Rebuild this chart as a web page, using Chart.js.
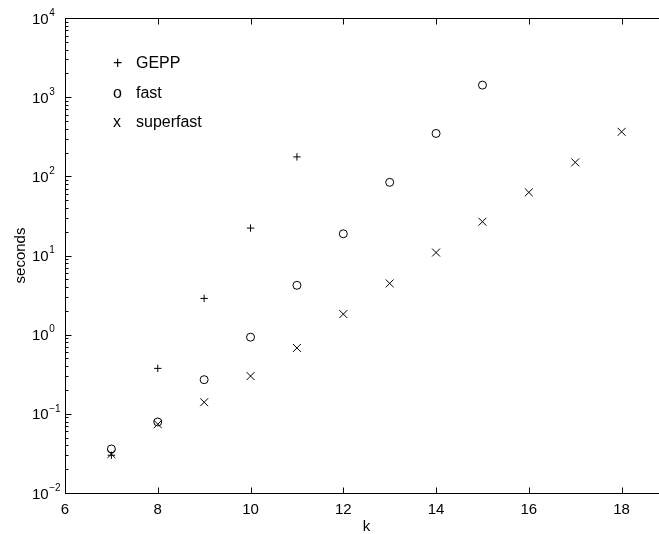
<!DOCTYPE html>
<html lang="en">
  <head>
    <meta charset="UTF-8">
    <title>GEPP vs fast vs superfast</title>
    <script src="https://cdn.jsdelivr.net/npm/chart.js@4.4.7/dist/chart.umd.min.js"></script>
    <style>
    body {
      margin: 0;
      background: #fff;
    }
    #wrap {
      width: 659px;
      height: 534px;
      overflow: hidden;
    }
    </style>
  </head>
  <body>
    <div id="wrap">
      <canvas id="timingChart" width="680" height="534"></canvas>
    </div>
    <script>
    // values (seconds, log axis)
    const kGepp = [7, 8, 9, 10, 11];
    const geppSeconds = [0.030, 0.375, 2.87, 22.2, 176];
    const kFast = [7, 8, 9, 10, 11, 12, 13, 14, 15];
    const fastSeconds = [0.036, 0.079, 0.27, 0.93, 4.2, 18.8, 84, 348, 1420];
    const kSuperfast = [7, 8, 9, 10, 11, 12, 13, 14, 15, 16, 17, 18];
    const superfastSeconds = [0.031, 0.074, 0.14, 0.30, 0.68, 1.82, 4.44, 10.9, 26.7, 62.7, 150, 365];
    const xTicks = [6, 8, 10, 12, 14, 16, 18];
    const yExponents = [-2, -1, 0, 1, 2, 3, 4];
    const legendGlyphs = ['+', 'o', 'x'];

    Chart.defaults.font.family = '"Liberation Sans", Arial, sans-serif';
    Chart.defaults.color = '#000';

    function points(xs, ys) {
      return xs.map((x, i) => ({ x: x, y: ys[i] }));
    }

    // MATLAB style box: inward ticks, 10^n labels, text legend
    const matlabAxes = {
      id: 'matlabAxes',
      afterDraw(chart) {
        const ctx = chart.ctx;
        const area = chart.chartArea;
        const xs = chart.scales.x;
        const ys = chart.scales.y;
        ctx.save();
        ctx.strokeStyle = '#000';
        ctx.fillStyle = '#000';
        ctx.lineWidth = 1;
        const L = Math.round(area.left) + 0.5;
        const R = Math.round(area.right) + 0.5;
        const T = Math.round(area.top) + 0.5;
        const B = Math.round(area.bottom) + 0.5;
        ctx.strokeRect(L, T, R - L, B - T);

        ctx.beginPath();
        xTicks.forEach(v => {
          const px = Math.round(xs.getPixelForValue(v)) + 0.5;
          ctx.moveTo(px, B); ctx.lineTo(px, B - 6);
          ctx.moveTo(px, T); ctx.lineTo(px, T + 6);
        });
        yExponents.forEach(e => {
          for (let m = 1; m <= 9; m++) {
            if (e === 4 && m > 1) break;
            const py = Math.round(ys.getPixelForValue(m * Math.pow(10, e))) + 0.5;
            const len = m === 1 ? 6 : 3;
            ctx.moveTo(L, py); ctx.lineTo(L + len, py);
            ctx.moveTo(R, py); ctx.lineTo(R - len, py);
          }
        });
        ctx.stroke();

        // y tick labels 10^n
        ctx.textAlign = 'left';
        ctx.textBaseline = 'middle';
        yExponents.forEach(e => {
          const py = ys.getPixelForValue(Math.pow(10, e));
          ctx.font = '15px "Liberation Sans", Arial, sans-serif';
          ctx.fillText('10', 32, py + 1.5);
          const w = ctx.measureText('10').width;
          ctx.font = '10px "Liberation Sans", Arial, sans-serif';
          ctx.fillText(e < 0 ? '\u2212' + Math.abs(e) : String(e), 32 + w + 0.5, py - 5);
        });

        // legend
        ctx.font = '16px "Liberation Sans", Arial, sans-serif';
        ctx.textBaseline = 'alphabetic';
        chart.data.datasets.forEach((ds, i) => {
          const by = 68 + i * 29.7;
          ctx.fillText(legendGlyphs[i], 113, by);
          ctx.fillText(ds.label, 136, by);
        });
        ctx.restore();
      }
    };

    const marker = {
      showLine: false,
      borderColor: '#000',
      backgroundColor: 'rgba(0,0,0,0)',
      pointBorderWidth: 1,
      clip: false
    };

    const ctx = document.getElementById('timingChart').getContext('2d');
    const timingChart = new Chart(ctx, {
      type: 'scatter',
      data: {
        datasets: [
          Object.assign({ label: 'GEPP', data: points(kGepp, geppSeconds), pointStyle: 'cross', pointRadius: 3.7 }, marker),
          Object.assign({ label: 'fast', data: points(kFast, fastSeconds), pointStyle: 'circle', pointRadius: 4 }, marker),
          Object.assign({ label: 'superfast', data: points(kSuperfast, superfastSeconds), pointStyle: 'crossRot', pointRadius: 5.6 }, marker)
        ]
      },
      options: {
        responsive: false,
        animation: false,
        devicePixelRatio: 1,
        layout: {
          padding: { top: 18, right: 12, left: 0, bottom: 0 }
        },
        plugins: {
          legend: { display: false },
          tooltip: { enabled: false }
        },
        scales: {
          x: {
            type: 'linear',
            position: 'bottom',
            min: 6,
            max: 19,
            afterBuildTicks: s => { s.ticks = xTicks.map(v => ({ value: v })); },
            afterFit: s => { s.height = 41; },
            grid: { display: false, drawTicks: false },
            border: { display: false },
            ticks: {
              font: { size: 15 },
              color: '#000',
              padding: 8,
              maxRotation: 0,
              autoSkip: false
            },
            title: {
              display: true,
              text: 'k',
              font: { size: 15 },
              color: '#000',
              padding: { top: 0, bottom: -2 }
            }
          },
          y: {
            type: 'logarithmic',
            min: 0.01,
            max: 10000,
            afterFit: s => { s.width = 65; },
            grid: { display: false, drawTicks: false },
            border: { display: false },
            ticks: { display: false },
            title: {
              display: true,
              text: 'seconds',
              font: { size: 15 },
              color: '#000',
              padding: { top: 12, bottom: 0 }
            }
          }
        }
      },
      plugins: [matlabAxes]
    });
    </script>
  </body>
</html>
